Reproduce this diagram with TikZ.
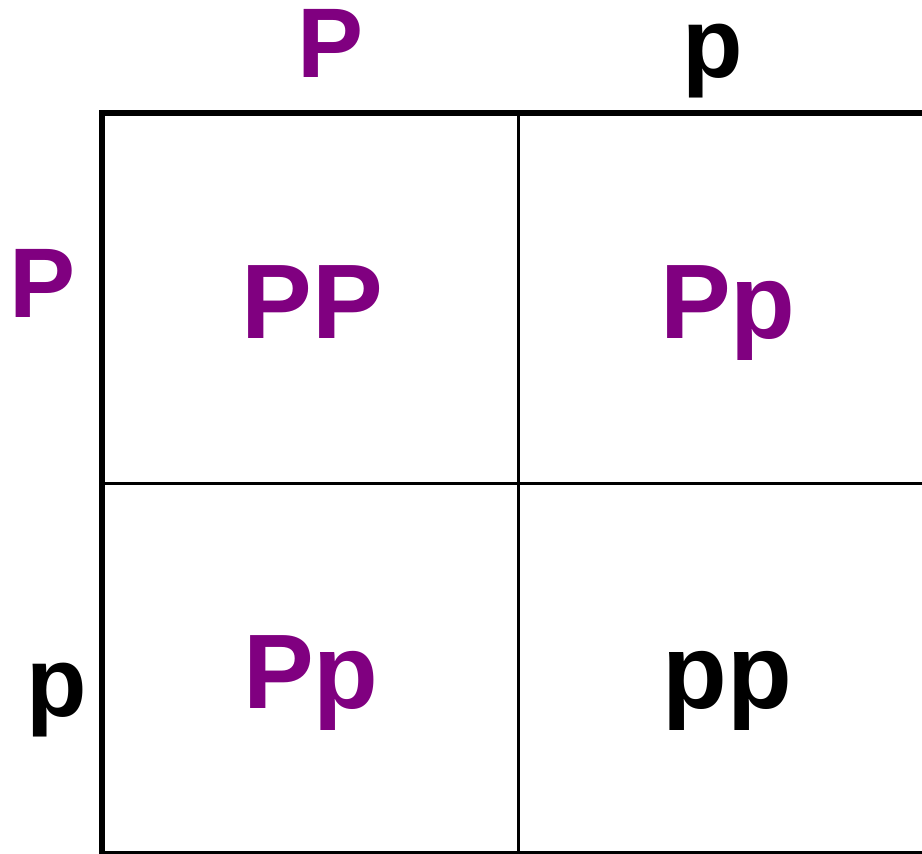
\documentclass[tikz,border=0pt]{standalone}
\usepackage{fontspec}
\setmainfont{Liberation Sans}
\definecolor{purp}{HTML}{800080}
\tikzset{
  hdr/.style={inner sep=0pt, anchor=base, font=\bfseries\fontsize{99}{99}\selectfont},
  cell/.style={inner sep=0pt, anchor=base, font=\bfseries\fontsize{106}{106}\selectfont},
  thick line/.style={line width=6pt, line cap=rect},
  thin line/.style={line width=3pt},
}
\begin{document}
\begin{tikzpicture}[x=1pt,y=-1pt]
\useasboundingbox (0,0) rectangle (922,854);
% grid coordinates
\coordinate (TL) at (102,113);
\coordinate (TR) at (925,113);
\coordinate (BL) at (102,854);
\coordinate (BR) at (925,854);
\coordinate (TM) at (518,113);
\coordinate (BM) at (518,854);
\coordinate (ML) at (102,483.5);
\coordinate (MR) at (925,483.5);
% lines
\draw[thin line] (TM) -- (BM);
\draw[thin line] (ML) -- (MR);
\draw[thick line] (TR) -- (TL) -- (BL) -- (BR);
% headers
\node[hdr, text=purp] (hP) at (331,77) {P};
\node[hdr] (hp) at (713,77) {p};
\node[hdr, text=purp] (vP) at (43,317) {P};
\node[hdr] (vp) at (57,716) {p};
% cells
\node[cell, text=purp] (c11) at (312,338) {PP};
\node[cell, text=purp] (c12) at (728,338) {Pp};
\node[cell, text=purp] (c21) at (311,708) {Pp};
\node[cell] (c22) at (727,708) {pp};
\end{tikzpicture}
\end{document}
